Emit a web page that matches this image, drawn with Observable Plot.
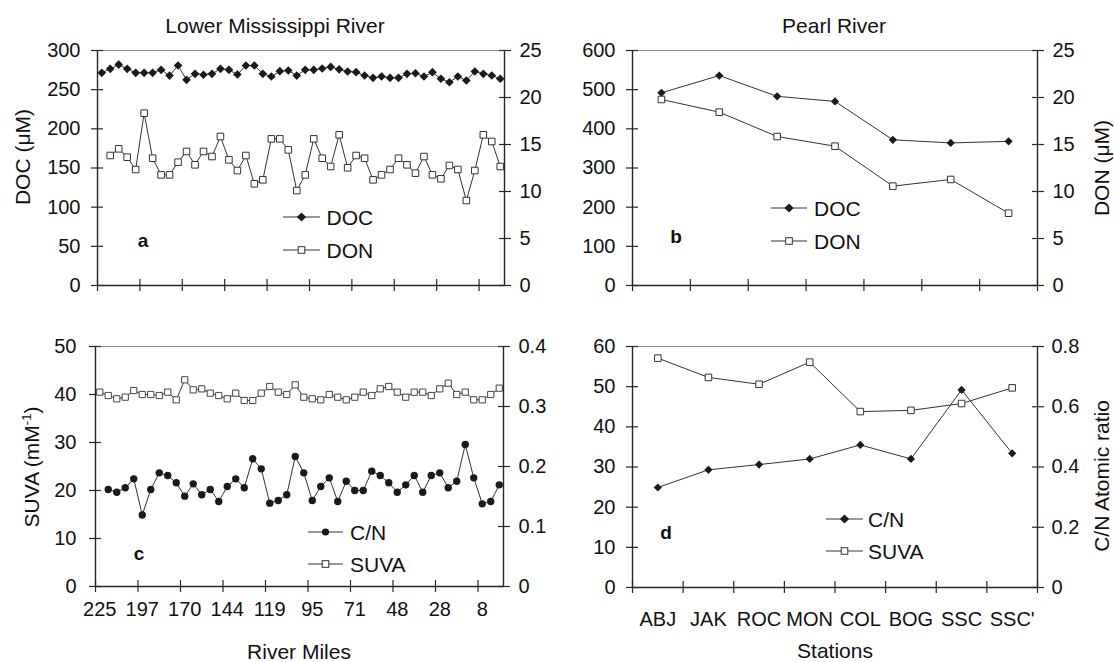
<!DOCTYPE html>
<html><head><meta charset="utf-8">
<script src="https://cdn.jsdelivr.net/npm/d3@7"></script>
<script src="https://cdn.jsdelivr.net/npm/@observablehq/plot@0.6"></script>
<style>
body{margin:0;background:#fff;font-family:"Liberation Sans",Arial,sans-serif;}
#wrap{position:relative;width:1114px;height:662px;overflow:hidden;background:#fff;}
.pan{position:absolute;}
.t{position:absolute;white-space:nowrap;line-height:1;color:#111;font-family:"Liberation Sans",Arial,sans-serif;}
</style></head><body><div id="wrap"></div>
<script>
// ---------- DATA ----------
// Lower Mississippi River: 48 stations (category index 1..48), labelled every 5th
const milesLabels = ["225","197","170","144","119","95","71","48","28","8"];
// DOC (uM, left axis) for categories 1..48
const docMiss = [271.5,276.6,282.0,276.6,271.5,271.5,271.5,275.3,268.0,280.8,262.6,270.2,269.0,270.2,276.6,275.3,269.4,280.8,280.8,270.2,266.8,273.6,274.5,268.0,275.3,275.3,277.0,279.0,276.0,273.2,272.3,268.1,265.1,266.8,265.1,265.1,270.2,271.0,266.8,272.3,263.9,259.5,266.8,261.7,273.2,270.2,268.1,263.9];
// DON (uM, right axis) for categories 2..48
const donMiss = [13.83,14.54,13.65,12.34,18.33,13.54,11.77,11.77,13.12,14.26,12.84,14.26,13.72,15.85,13.37,12.23,13.83,10.82,11.24,15.6,15.6,14.43,10.1,11.77,15.6,13.54,12.66,16.03,12.52,13.83,13.54,11.24,11.77,12.34,13.54,12.84,11.95,13.72,11.77,11.35,12.77,12.34,9.04,12.23,16.03,15.32,12.66];
// SUVA (left-axis units) for categories 1..48
const suvaMiss = [40.49,39.79,39.1,39.44,40.83,40,40,39.79,40.49,38.89,43.06,40.97,41.18,40.28,39.79,39.1,40.28,38.75,38.75,40.28,41.67,40.49,40,42.01,39.44,39.1,38.89,40,39.44,38.89,39.44,40.49,39.79,41.18,41.67,40.49,39.44,40.49,40.49,39.79,41.18,42.36,40,40.49,38.89,38.89,40,41.32];
// C/N (left-axis units) for categories 2..48
const cnMiss = [20.21,19.65,20.56,22.43,14.9,20.21,23.68,23.13,21.6,18.82,21.39,19.1,20.21,17.71,20.83,22.43,20.56,26.6,24.51,17.36,17.92,19.1,27.08,23.68,17.92,20.83,22.64,17.71,21.94,20,20,24.03,23.13,21.6,19.65,21.18,23.13,19.65,23.13,23.68,20.56,21.94,29.58,22.64,17.22,17.71,21.18];

// Pearl River
const stations = ["ABJ","JAK","ROC","MON","COL","BOG","SSC","SSC'"];
const docPearl = [492,536,483,470,372,364,368];          // uM, left axis
const donPearl = [19.79,18.44,15.85,14.82,10.57,11.28,7.69]; // uM, right axis
const cnPearl = [24.9,29.3,30.6,32.0,35.5,32.0,49.2,33.4];   // left-axis units
const suvaPearl = [57.1,52.3,50.6,56.1,43.8,44.1,45.8,49.7]; // left-axis units

// axis tick values
const ticksDOCa = [0,50,100,150,200,250,300];
const ticksDONa = [0,5,10,15,20,25];
const ticksDOCb = [0,100,200,300,400,500,600];
const ticksDONb = [0,5,10,15,20,25];
const ticksSUVAc = [0,10,20,30,40,50];
const ticksRc = [0,0.1,0.2,0.3,0.4];
const ticksLd = [0,10,20,30,40,50,60];
const ticksRd = [0,0.2,0.4,0.6,0.8];

// ---------- HELPERS ----------
const INK = "#262626";
const FONT = "Liberation Sans, Arial, sans-serif";
const TICKFS = 20;
const wrap = document.getElementById("wrap");

function rightFmt(f){ return d => String(+(d/f).toFixed(3)); }

function frameMarks(xMin, xMax, yTop){
  return [
    Plot.ruleY([yTop], {stroke:"#8c8c8c", strokeWidth:1}),
    Plot.ruleX([xMin], {stroke:INK, strokeWidth:1.4}),
    Plot.ruleX([xMax], {stroke:INK, strokeWidth:1.4}),
    Plot.ruleY([0], {stroke:INK, strokeWidth:1.4})
  ];
}
function yAxes(lt, rv, factor, padL, padR){
  const rp = rv.map(v => v*factor);
  return [
    Plot.axisY(lt, {anchor:"left", tickSize:12, dx:6, fill:"none", stroke:INK, strokeWidth:1.2, label:null}),
    Plot.axisY(lt, {anchor:"left", tickSize:0, tickPadding:padL, fontSize:TICKFS, fill:"#111", label:null, tickFormat:d => String(d)}),
    Plot.axisY(rp, {anchor:"right", tickSize:12, dx:-6, fill:"none", stroke:INK, strokeWidth:1.2, label:null}),
    Plot.axisY(rp, {anchor:"right", tickSize:0, tickPadding:padR, fontSize:TICKFS, fill:"#111", label:null, tickFormat:rightFmt(factor)})
  ];
}
function xAxes(tickPos, labelPos, fmt, pad){
  const m = [Plot.axisX(tickPos, {anchor:"bottom", tickSize:12, dy:-6, fill:"none", stroke:INK, strokeWidth:1.2, label:null})];
  if (labelPos) m.push(Plot.axisX(labelPos, {anchor:"bottom", tickSize:0, tickPadding:pad, fontSize:TICKFS, fill:"#111", label:null, tickFormat:fmt}));
  return m;
}
function place(svg, left, top){
  const d = document.createElement("div");
  d.className = "pan"; d.style.left = left+"px"; d.style.top = top+"px";
  d.appendChild(svg); wrap.appendChild(d);
}
function text(str, x, y, {size=21, weight="normal", anchor="middle", rotate=0, html=false, lh=1}={}){
  const d = document.createElement("div");
  d.className = "t";
  d.style.fontSize = size+"px"; d.style.fontWeight = weight; d.style.lineHeight = lh;
  d.style.left = x+"px"; d.style.top = y+"px";
  const tx = anchor === "middle" ? "-50%" : anchor === "end" ? "-100%" : "0";
  d.style.transform = `translate(${tx},-50%)` + (rotate ? ` rotate(${rotate}deg)` : "");
  if (html) d.innerHTML = str; else d.textContent = str;
  wrap.appendChild(d);
}
function symbolSVG(sym, cx, cy){
  if (sym === "diamond") return `<polygon points="${cx},${cy-4.6} ${cx+4.6},${cy} ${cx},${cy+4.6} ${cx-4.6},${cy}" fill="#1a1a1a"/>`;
  if (sym === "square") return `<rect x="${cx-3.3}" y="${cy-3.3}" width="6.6" height="6.6" fill="#fff" stroke="#333" stroke-width="1"/>`;
  return `<circle cx="${cx}" cy="${cy}" r="3.6" fill="#1a1a1a"/>`;
}
function legendItem(x1, x2, y, sym, label, tx){
  const s = document.createElementNS("http://www.w3.org/2000/svg","svg");
  s.setAttribute("width", x2-x1+4); s.setAttribute("height", 14);
  s.style.position = "absolute"; s.style.left = (x1-2)+"px"; s.style.top = (y-7)+"px";
  const mid = (x2-x1)/2 + 2;
  s.innerHTML = `<line x1="2" x2="${x2-x1+2}" y1="7" y2="7" stroke="#333" stroke-width="1"/>` + symbolSVG(sym, mid, 7);
  wrap.appendChild(s);
  text(label, tx, y, {size:21, anchor:"start"});
}

const style = {fontFamily: FONT, fontSize: "20px", color: "#111", background: "transparent", overflow: "visible"};

// ---------- PANEL a ----------
const aDOC = docMiss.map((v,k) => ({i:k+1, y:v}));
const aDON = donMiss.map((v,k) => ({i:k+2, y:v*12}));
const tick5 = d3.range(0.5, 46, 5);
place(Plot.plot({
  width:557, height:320, marginLeft:97, marginRight:53, marginTop:50, marginBottom:35,
  x:{domain:[0.5,48.5]}, y:{domain:[0,300]}, style,
  marks:[
    ...frameMarks(0.5, 48.5, 300),
    ...yAxes(ticksDOCa, ticksDONa, 12, 17, 15),
    ...xAxes(tick5, null),
    Plot.line(aDOC, {x:"i", y:"y", stroke:"#333", strokeWidth:1}),
    Plot.line(aDON, {x:"i", y:"y", stroke:"#333", strokeWidth:1}),
    Plot.dot(aDOC, {x:"i", y:"y", symbol:"diamond2", r:3.9, fill:"#1a1a1a", stroke:"none"}),
    Plot.dot(aDON, {x:"i", y:"y", symbol:"square", r:3.7, fill:"#fff", stroke:"#333", strokeWidth:1})
  ]
}), 0, 0);

// ---------- PANEL b ----------
const bDOC = docPearl.map((v,k) => ({i:k+1, y:v}));
const bDON = donPearl.map((v,k) => ({i:k+1, y:v*24}));
place(Plot.plot({
  width:557, height:320, marginLeft:75, marginRight:77, marginTop:50, marginBottom:35,
  x:{domain:[0.5,7.5]}, y:{domain:[0,600]}, style,
  marks:[
    ...frameMarks(0.5, 7.5, 600),
    ...yAxes(ticksDOCb, ticksDONb, 24, 17, 15),
    ...xAxes(d3.range(0.5, 8, 1), null),
    Plot.line(bDOC, {x:"i", y:"y", stroke:"#333", strokeWidth:1}),
    Plot.line(bDON, {x:"i", y:"y", stroke:"#333", strokeWidth:1}),
    Plot.dot(bDOC, {x:"i", y:"y", symbol:"diamond2", r:3.7, fill:"#1a1a1a", stroke:"none"}),
    Plot.dot(bDON, {x:"i", y:"y", symbol:"square", r:3.7, fill:"#fff", stroke:"#333", strokeWidth:1})
  ]
}), 557, 0);

// ---------- PANEL c ----------
const cSUVA = suvaMiss.map((v,k) => ({i:k+1, y:v}));
const cCN = cnMiss.map((v,k) => ({i:k+2, y:v}));
place(Plot.plot({
  width:557, height:342, marginLeft:95, marginRight:54, marginTop:26, marginBottom:76,
  x:{domain:[0.5,48.5]}, y:{domain:[0,50]}, style,
  marks:[
    ...frameMarks(0.5, 48.5, 50),
    ...yAxes(ticksSUVAc, ticksRc, 125, 19, 15),
    ...xAxes(tick5, d3.range(1, 47, 5), d => milesLabels[Math.round((d-1)/5)], 15.5),
    Plot.line(cSUVA, {x:"i", y:"y", stroke:"#333", strokeWidth:1}),
    Plot.line(cCN, {x:"i", y:"y", stroke:"#333", strokeWidth:1}),
    Plot.dot(cSUVA, {x:"i", y:"y", symbol:"square", r:3.5, fill:"#fff", stroke:"#444", strokeWidth:1}),
    Plot.dot(cCN, {x:"i", y:"y", r:3.7, fill:"#1a1a1a", stroke:"none"})
  ]
}), 0, 320);

// ---------- PANEL d ----------
const dCN = cnPearl.map((v,k) => ({i:k+1, y:v}));
const dSUVA = suvaPearl.map((v,k) => ({i:k+1, y:v}));
place(Plot.plot({
  width:557, height:342, marginLeft:75, marginRight:77, marginTop:26, marginBottom:75,
  x:{domain:[0.5,8.5]}, y:{domain:[0,60]}, style,
  marks:[
    ...frameMarks(0.5, 8.5, 60),
    ...yAxes(ticksLd, ticksRd, 75, 17, 14),
    ...xAxes(d3.range(0.5, 9, 1), d3.range(1, 9, 1), d => stations[d-1], 24.5),
    Plot.line(dCN, {x:"i", y:"y", stroke:"#333", strokeWidth:1}),
    Plot.line(dSUVA, {x:"i", y:"y", stroke:"#333", strokeWidth:1}),
    Plot.dot(dCN, {x:"i", y:"y", symbol:"diamond2", r:3.7, fill:"#1a1a1a", stroke:"none"}),
    Plot.dot(dSUVA, {x:"i", y:"y", symbol:"square", r:3.7, fill:"#fff", stroke:"#333", strokeWidth:1})
  ]
}), 557, 320);

// ---------- TEXT ----------
text("Lower Mississippi River", 275, 24.5, {size:21});
text("Pearl River", 834, 24.5, {size:21});
text("River Miles", 299, 652, {size:21, lh:0.9});
text("Stations", 835, 651, {size:21, lh:0.9});
text("DOC (μM)", 22, 157, {size:21, rotate:-90});
text('SUVA (mM<span style="font-size:13px;position:relative;top:-8px">-1</span>)', 31, 467, {size:21, rotate:-90, html:true});
text("DON (μM)", 1101, 168, {size:21, rotate:-90});
text("C/N Atomic ratio", 1101, 476, {size:21, rotate:-90});

text("a", 143, 240, {size:19, weight:"bold"});
text("b", 676, 236, {size:19, weight:"bold"});
text("c", 139, 553, {size:19, weight:"bold"});
text("d", 666, 532, {size:19, weight:"bold"});

legendItem(283, 320, 217, "diamond", "DOC", 326.5);
legendItem(283, 320, 250, "square", "DON", 326.5);
legendItem(771, 807, 208, "diamond", "DOC", 814);
legendItem(771, 807, 241, "square", "DON", 814);
legendItem(308, 343, 532, "circle", "C/N", 350);
legendItem(308, 343, 564, "square", "SUVA", 350);
legendItem(826, 863, 519, "diamond", "C/N", 868);
legendItem(826, 863, 551, "square", "SUVA", 868);
</script></body></html>
